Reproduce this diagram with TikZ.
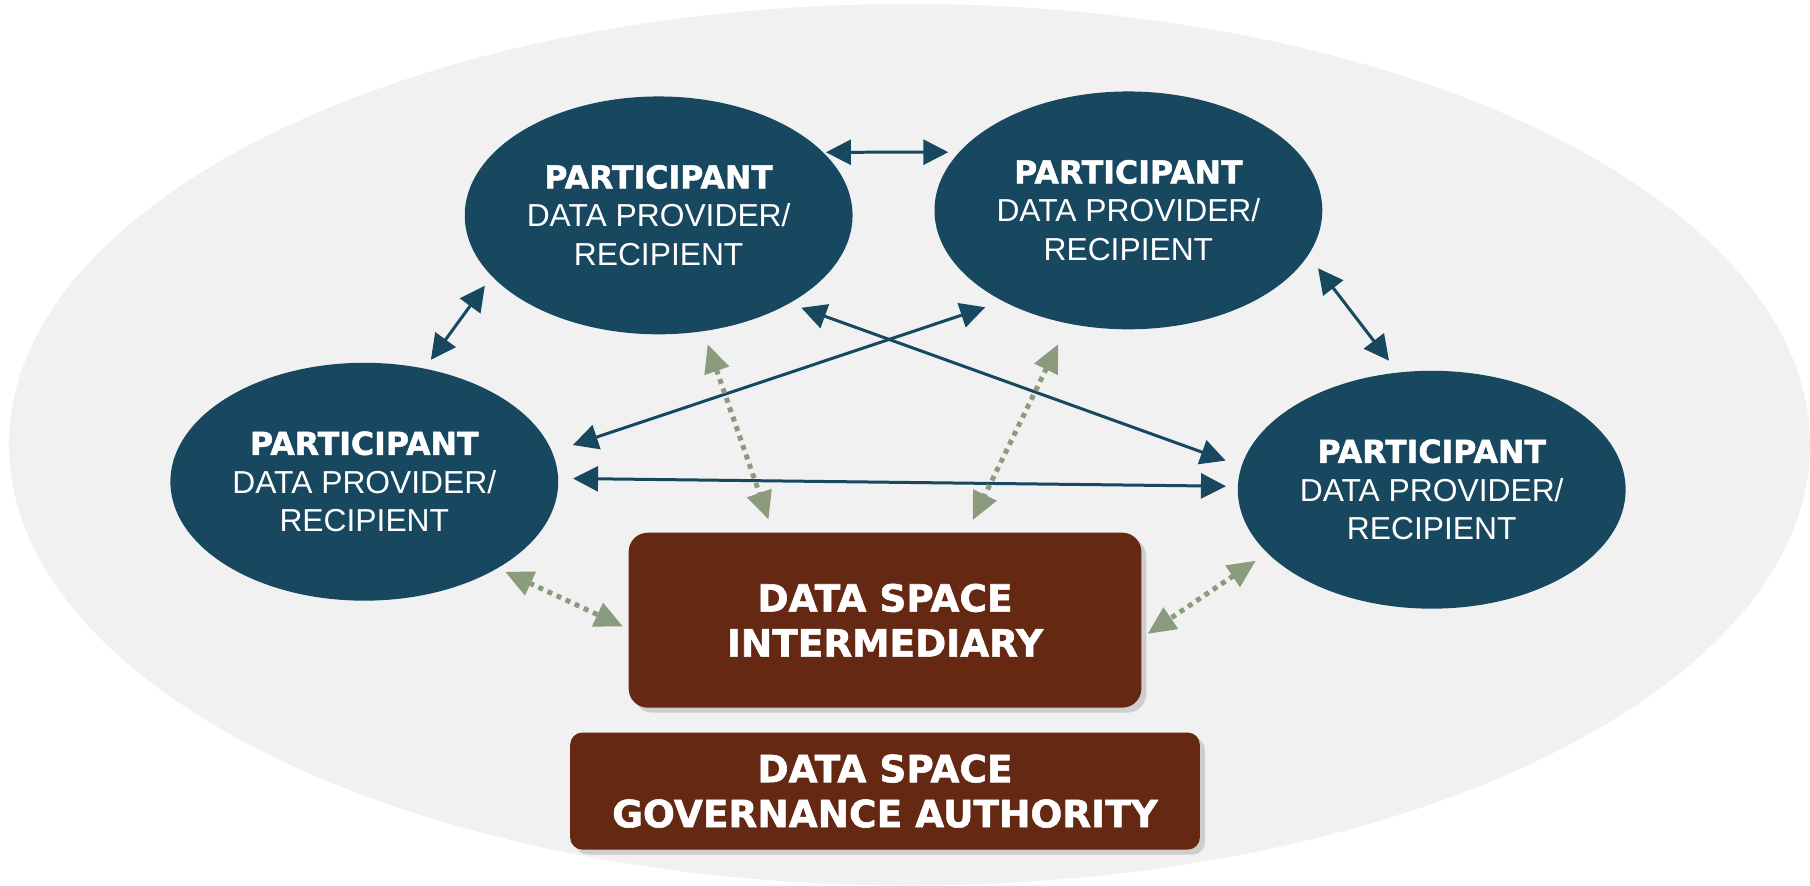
\documentclass[tikz,border=0pt]{standalone}
\usepackage{fontspec}
\setmainfont{Liberation Sans}
\newfontfamily\heavyfont{DejaVu Sans}[BoldFeatures={FakeBold=1.5}]
\usepackage{tikz}
\usetikzlibrary{shapes,arrows.meta,positioning,shadows}
\definecolor{partblue}{RGB}{23,72,95}
\definecolor{dsbrown}{RGB}{101,40,19}
\definecolor{dotgreen}{RGB}{138,156,125}
\definecolor{bggray}{RGB}{241,241,241}
\newcommand{\parttext}{{\heavyfont\bfseries\fontsize{31.6}{38.5}\selectfont PARTICIPANT}\\DATA PROVIDER/\\RECIPIENT}

\begin{document}
\begin{tikzpicture}[x=1pt,y=-1pt,
	part/.style={ellipse,fill=partblue,text=white,inner sep=0pt,outer sep=0pt,minimum width=388pt,minimum height=238pt,align=center,font=\fontsize{31.8}{38.5}\selectfont},
	dsbox/.style={rectangle,fill=dsbrown,text=white,inner sep=0pt,outer sep=0pt,align=center,font=\heavyfont\bfseries\fontsize{37.5}{45}\selectfont,drop shadow={shadow xshift=5pt,shadow yshift=-5pt,opacity=0.3}},
	link/.style={{Triangle[length=25pt,width=25pt]}-{Triangle[length=25pt,width=25pt]},draw=partblue,line width=3pt},
	dotlink/.style={{Triangle[length=28pt,width=25pt]}-{Triangle[length=28pt,width=25pt]},draw=dotgreen,line width=5pt,dash pattern=on 5pt off 5pt}]
		\fill[white] (0,0) rectangle (1810,884);
		\fill[bggray] (910,445) ellipse [x radius=901,y radius=441];
		\useasboundingbox (0,0) rectangle (1810,884);
		\node[part] (p1) at (659,215.5) {\parttext};
		\node[part] (p2) at (1129,210.5) {\parttext};
		\node[part] (p3) at (364.5,482) {\parttext};
		\node[part] (p4) at (1432.5,490) {\parttext};
		\node[dsbox,rounded corners=19pt,minimum width=513pt,minimum height=175pt] (dsi) at (885.5,620.5) {DATA SPACE\\INTERMEDIARY};
		\node[dsbox,rounded corners=12pt,minimum width=630pt,minimum height=117pt] (dsga) [below=25pt of dsi] {DATA SPACE\\GOVERNANCE AUTHORITY};
		\draw[link,shorten <=3pt,shorten >=11pt] (p1.21) -- (p2.161);
		\draw[link,shorten <=12pt,shorten >=11pt] (p1.200) -- (p3.62);
		\draw[link,shorten <=16.5pt,shorten >=15pt] (p2.-14) -- (p4.106);
		\draw[link,shorten <=22pt,shorten >=19pt] (p3.9) -- (p2.216);
		\draw[link,shorten <=13pt,shorten >=17pt] (p1.-34) -- (p4.173);
		\draw[link,shorten <=15pt,shorten >=12pt] (p3.1) -- (p4.179);
		\draw[dotlink,shorten <=14pt,shorten >=14pt] (p1.-69) -- (dsi.142);
		\draw[dotlink,shorten <=23pt,shorten >=14pt] (p2.242) -- (dsi.47);
		\draw[dotlink,shorten <=8.5pt,shorten >=6.4pt] (p3.-33) -- (dsi.182);
		\draw[dotlink,shorten <=14pt,shorten >=7.6pt] (p4.201) -- (dsi.-4);
	\end{tikzpicture}
\end{document}
